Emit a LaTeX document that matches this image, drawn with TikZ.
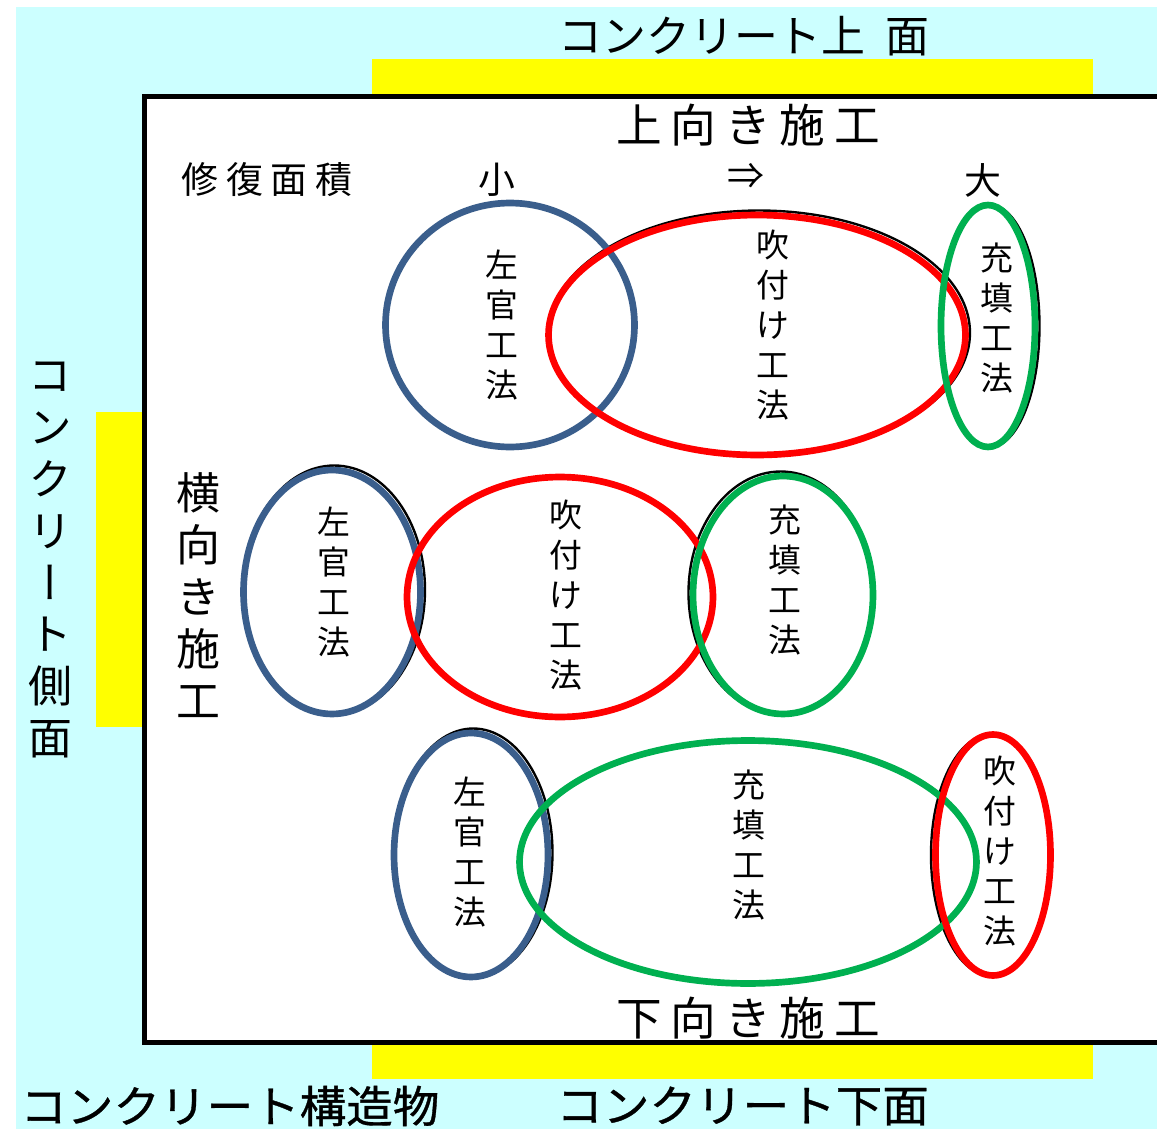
\documentclass[tikz,border=0pt]{standalone}
\usepackage{fontspec}
\setmainfont{Noto Sans CJK JP}
\newfontfamily\tatefont[RawFeature=+vert]{Noto Sans CJK JP}
\newfontfamily\widefont[FakeStretch=1.06, FakeBold=0.8]{Noto Sans CJK JP}
\usetikzlibrary{shapes.geometric}

\definecolor{skycyan}{HTML}{CCFFFF}
\definecolor{markyellow}{HTML}{FFFF00}
\definecolor{sakanblue}{HTML}{3A5E8C}
\definecolor{fukired}{HTML}{FF0000}
\definecolor{jutengreen}{HTML}{00B050}

\tikzset{
  method/.style={ellipse, draw, line width=3.8pt, inner sep=0pt, outer sep=0pt},
  sakan/.style={method, draw=sakanblue},
  fuki/.style={method, draw=fukired},
  juten/.style={method, draw=jutengreen},
  rim/.style={method, draw=black, line width=1.36pt},
  tate/.style={align=center, inner sep=0pt, font=\fontsize{18.7}{22.7}\selectfont},
  bigtate/.style={align=center, inner sep=0pt, font=\tatefont\fontsize{25}{29.5}\selectfont},
  head/.style={inner sep=0pt, font=\fontsize{26}{30}\selectfont},
  side/.style={inner sep=0pt, font=\fontsize{25}{30}\selectfont},
  wideside/.style={inner sep=0pt, font=\widefont\fontsize{25}{30}\selectfont},
  arealabel/.style={inner sep=0pt, font=\fontsize{21}{25}\selectfont}
}

\begin{document}
\begin{tikzpicture}[x=0.02cm, y=-0.02cm]
	\useasboundingbox (0,0) rectangle (1157,1129);
	
	% background and surfaces
	\fill[skycyan] (16,7) rectangle (1157,1129);
	\fill[markyellow] (372,59) rectangle (1093,94);
	\fill[markyellow] (372,1045) rectangle (1093,1079);
	\fill[markyellow] (96,412) rectangle (142,727);
	\fill[white] (144.5,96.5) rectangle (1160,1042.5);
	\draw[line width=2.83pt] (1162,96.5) -- (144.5,96.5) -- (144.5,1042.5) -- (1162,1042.5);
	
	\node[side, anchor=west] (top-label) at (558,36) {コンクリート上\hspace{11pt}面};
	\node[wideside, anchor=west] (bottom-label) at (556,1106) {コンクリート下面};
	\node[wideside, anchor=west] (struct-label) at (20,1106) {コンクリート構造物};
	\node[bigtate] (side-label) at (50,560) {コ\\ン\\ク\\リ\\ー\\ト\\側\\面};
	
	\node[head] (up-title) at (748,125) {上\hspace{5pt}向\hspace{5pt}き\hspace{5pt}施\hspace{5pt}工};
	\node[head] (down-title) at (748,1018) {下\hspace{5pt}向\hspace{5pt}き\hspace{5pt}施\hspace{5pt}工};
	\node[bigtate] (side-title) at (198,595) {横\\向\\き\\施\\工};
	
	\node[arealabel, anchor=west] (area) at (181,180) {修\hspace{4.5pt}復\hspace{4.5pt}面\hspace{4.5pt}積};
	\node[arealabel] (small) at (497,180) {小};
	\node[arealabel] (arrow) at (746,176) {⇒};
	\node[arealabel] (large) at (983,180) {大};
	
	% upward work
	\node[rim, minimum width=8.43cm, minimum height=4.89cm] (u-fuki-rim) at (759.25,332.75) {};
	\node[rim, minimum width=1.97cm, minimum height=4.84cm] (u-juten-rim) at (990.25,326) {};
	\node[sakan, minimum width=4.98cm, minimum height=4.88cm] (u-sakan) at (510,325) {};
	\node[fuki, minimum width=8.34cm, minimum height=4.80cm] (u-fuki) at (757,335) {};
	\node[juten, minimum width=1.88cm, minimum height=4.84cm] (u-juten) at (988,326) {};
	\node[tate] (u-sakan-t) at (502,325) {左\\官\\工\\法};
	\node[tate] (u-fuki-t) at (773,325) {吹\\付\\け\\工\\法};
	\node[tate] (u-juten-t) at (997,318) {充\\填\\工\\法};
	
	% sideways work
	\node[rim, minimum width=3.63cm, minimum height=4.97cm] (s-sakan-rim) at (334.25,589.75) {};
	\node[rim, minimum width=3.69cm, minimum height=4.85cm] (s-juten-rim) at (780.75,592.75) {};
	\node[sakan, minimum width=3.54cm, minimum height=4.88cm] (s-sakan) at (332,592) {};
	\node[fuki, minimum width=6.12cm, minimum height=4.80cm] (s-fuki) at (560,597) {};
	\node[juten, minimum width=3.60cm, minimum height=4.76cm] (s-juten) at (783,595) {};
	\node[tate] (s-sakan-t) at (334,582) {左\\官\\工\\法};
	\node[tate] (s-fuki-t) at (566,595) {吹\\付\\け\\工\\法};
	\node[tate] (s-juten-t) at (785,580) {充\\填\\工\\法};
	
	% downward work
	\node[rim, minimum width=3.17cm, minimum height=4.97cm] (d-sakan-rim) at (473.25,852.75) {};
	\node[rim, minimum width=2.39cm, minimum height=4.82cm] (d-fuki-rim) at (990.75,855) {};
	\node[sakan, minimum width=3.08cm, minimum height=4.88cm] (d-sakan) at (471,855) {};
	\node[juten, minimum width=9.14cm, minimum height=4.86cm] (d-juten) at (748,862) {};
	\node[fuki, minimum width=2.30cm, minimum height=4.82cm] (d-fuki) at (993,855) {};
	\node[tate] (d-sakan-t) at (470,852) {左\\官\\工\\法};
	\node[tate] (d-juten-t) at (749,845) {充\\填\\工\\法};
	\node[tate] (d-fuki-t) at (1000,851) {吹\\付\\け\\工\\法};
	
\end{tikzpicture}
\end{document}
